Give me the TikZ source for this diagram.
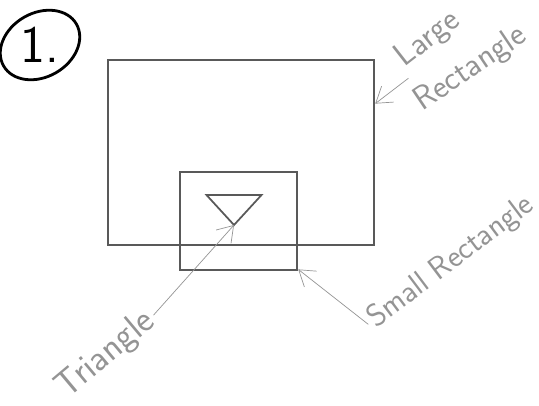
\documentclass[tikz,border=0pt]{standalone}
\usepackage{xcolor}
\usepackage{tikz}
\usetikzlibrary{arrows.meta,positioning}

\definecolor{pencil}{gray}{0.35}
\definecolor{lightpencil}{gray}{0.58}

\begin{document}
\begin{tikzpicture}[
  sketchbox/.style={
    draw=pencil,
    line width=1.4pt,
    inner sep=0pt
  },
  note/.style={
    text=lightpencil,
    align=left,
    inner sep=2pt,
    font=\sffamily
  },
  arrow/.style={-{Straight Barb[length=3mm,width=4mm]},draw=lightpencil,thin}
]
\useasboundingbox (0,0) rectangle (10.78,8.1);
\node[sketchbox,minimum width=5.32cm,minimum height=3.7cm] (large) at (4.82,5.05) {};
\node[sketchbox,minimum width=2.34cm,minimum height=1.96cm] (small) at (4.77,3.68) {};
\coordinate (tritip) at (4.68,3.6);
\draw[draw=pencil,line width=1pt] (tritip) -- ++(0.55,0.6) -- ++(-1.1,0) -- cycle;
\node[font=\sffamily\fontsize{30}{34}\selectfont,text=black] (num) at (0.8,7.2) {1.};
\draw[line width=1.6pt,rotate around={30:(num)}] (num) ellipse (0.84 and 0.64);
\node[note,rotate=38,font=\sffamily\fontsize{19}{22}\selectfont] (largelbl) at (8.56,7.32)
  {Large};
\node[note,rotate=34,font=\sffamily\fontsize{19}{22}\selectfont] (rectlbl) at (9.42,6.72)
  {Rectangle};
\node[note,rotate=37,font=\sffamily\fontsize{18}{21}\selectfont] (smalllbl) at (9.02,2.86)
  {Small Rectangle};
\node[note,rotate=40,font=\sffamily\fontsize{21}{24}\selectfont] (trilbl) at (2.12,1.0)
  {Triangle};
\draw[arrow] (largelbl.south west) -- (large.20);
\draw[arrow] (smalllbl.west) -- (small.-39);
\draw[arrow] (trilbl.east) -- (tritip);
\end{tikzpicture}
\end{document}
